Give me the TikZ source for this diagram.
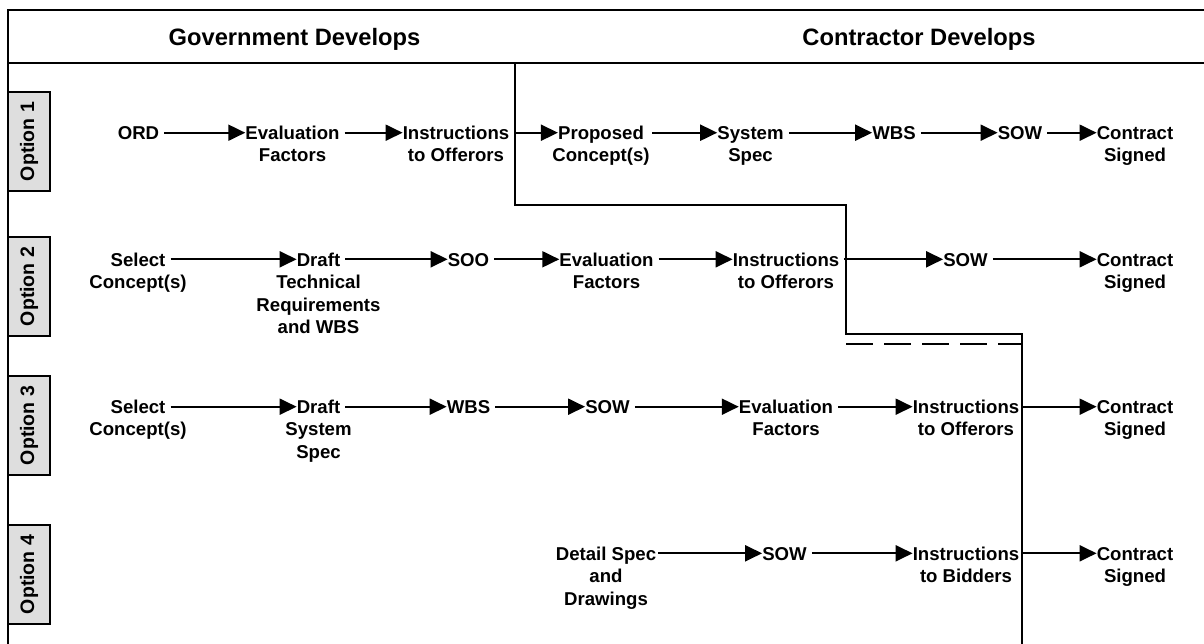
\documentclass[tikz,border=0pt]{standalone}
\usepackage{fontspec}
\setmainfont{Liberation Sans}
\usetikzlibrary{arrows.meta,calc}
\definecolor{tabgray}{RGB}{222,222,222}
\newcommand\ml[1]{\begin{tabular}[t]{@{}c@{}}#1\end{tabular}}
\newcommand\zw[1]{\makebox[0pt]{#1}}
\newcommand\flowarrow[3][5pt]{\draw[flow, shorten <=#1] ($(#2.base east)+(0,-6.7)$) -- ($(#3.base west)+(0,-6.7)$);}
\begin{document}
\begin{tikzpicture}[x=1pt,y=-1pt,
  item/.style={font=\fontsize{18.6}{22.5}\selectfont\bfseries, inner sep=0pt, anchor=base},
  hdr/.style={font=\fontsize{23.7}{28}\selectfont\bfseries, inner sep=0pt, anchor=base},
  opttab/.style={draw, line width=2.2pt, fill=tabgray, rotate=90, minimum width=99pt, minimum height=42pt, inner sep=0pt, font=\fontsize{19.5}{23}\selectfont\bfseries},
  flow/.style={line width=2pt, -{Triangle[length=17pt,width=16pt]}},
  frameline/.style={line width=2.8pt},
  divider/.style={line width=2.3pt}]
\useasboundingbox (0,0) rectangle (1204,643);

% frame
\draw[frameline] (8,648) -- (8,10) -- (1210,10);
\draw[frameline] (8,63) -- (1210,63);

% headers
\node[hdr] (gov) at (294.5,45.5) {Government Develops};
\node[hdr] (con) at (919,45.5) {Contractor Develops};

% option tabs
\node[opttab] (o1) at (29,141.5) {Option 1};
\node[opttab] (o2) at (29,286.5) {Option 2};
\node[opttab] (o3) at (29,425.5) {Option 3};
\node[opttab] (o4) at (29,574.5) {Option 4};

% divider between government and contractor
\draw[divider] (515,63) -- (515,205) -- (846,205) -- (846,334) -- (1022,334) -- (1022,648);
\draw[divider, dash pattern=on 27pt off 11pt] (846,344) -- (1022,344);

% row 1
\node[item] (ord)  at (138.5,139.4) {ORD};
\node[item] (ev1)  at (292.5,139.4) {\ml{Evaluation\\Factors}};
\node[item] (ins1) at (456,139.4)   {\ml{Instructions\\to Offerors}};
\node[item] (prop) at (601,139.4)   {\ml{Proposed\\\zw{Concept(s)}}};
\node[item] (sys)  at (750.5,139.4) {\ml{System\\Spec}};
\node[item] (wbs1) at (894,139.4)   {WBS};
\node[item] (sow1) at (1020,139.4)  {SOW};
\node[item] (con1) at (1135,139.4)  {\ml{Contract\\Signed}};
\flowarrow{ord}{ev1}
\flowarrow{ev1}{ins1}
\flowarrow{ins1}{prop}
\flowarrow[8pt]{prop}{sys}
\flowarrow{sys}{wbs1}
\flowarrow{wbs1}{sow1}
\flowarrow{sow1}{con1}

% row 2
\node[item] (sel2) at (138,266)   {\ml{Select\\\zw{Concept(s)}}};
\node[item] (dr2)  at (318.5,266) {\ml{Draft\\\zw{Technical}\\\zw{Requirements}\\\zw{and WBS}}};
\node[item] (soo)  at (468.5,266) {SOO};
\node[item] (ev2)  at (606.5,266) {\ml{Evaluation\\Factors}};
\node[item] (ins2) at (786,266)   {\ml{Instructions\\to Offerors}};
\node[item] (sow2) at (965.5,266) {SOW};
\node[item] (con2) at (1135,266)  {\ml{Contract\\Signed}};
\flowarrow{sel2}{dr2}
\flowarrow{dr2}{soo}
\flowarrow{soo}{ev2}
\flowarrow{ev2}{ins2}
\flowarrow{ins2}{sow2}
\flowarrow{sow2}{con2}

% row 3
\node[item] (sel3) at (138,413.4)   {\ml{Select\\\zw{Concept(s)}}};
\node[item] (dr3)  at (318.5,413.4) {\ml{Draft\\\zw{System}\\\zw{Spec}}};
\node[item] (wbs3) at (468.5,413.4) {WBS};
\node[item] (sow3) at (607.5,413.4) {SOW};
\node[item] (ev3)  at (786,413.4)   {\ml{Evaluation\\Factors}};
\node[item] (ins3) at (966,413.4)   {\ml{Instructions\\to Offerors}};
\node[item] (con3) at (1135,413.4)  {\ml{Contract\\Signed}};
\flowarrow{sel3}{dr3}
\flowarrow{dr3}{wbs3}
\flowarrow{wbs3}{sow3}
\flowarrow{sow3}{ev3}
\flowarrow{ev3}{ins3}
\flowarrow[2pt]{ins3}{con3}

% row 4
\node[item] (det)  at (606,560)   {\ml{Detail Spec\\and\\Drawings}};
\node[item] (sow4) at (784.5,560) {SOW};
\node[item] (ins4) at (966,560)   {\ml{Instructions\\to Bidders}};
\node[item] (con4) at (1135,560)  {\ml{Contract\\Signed}};
\flowarrow[2pt]{det}{sow4}
\flowarrow{sow4}{ins4}
\flowarrow[2pt]{ins4}{con4}
\end{tikzpicture}
\end{document}
